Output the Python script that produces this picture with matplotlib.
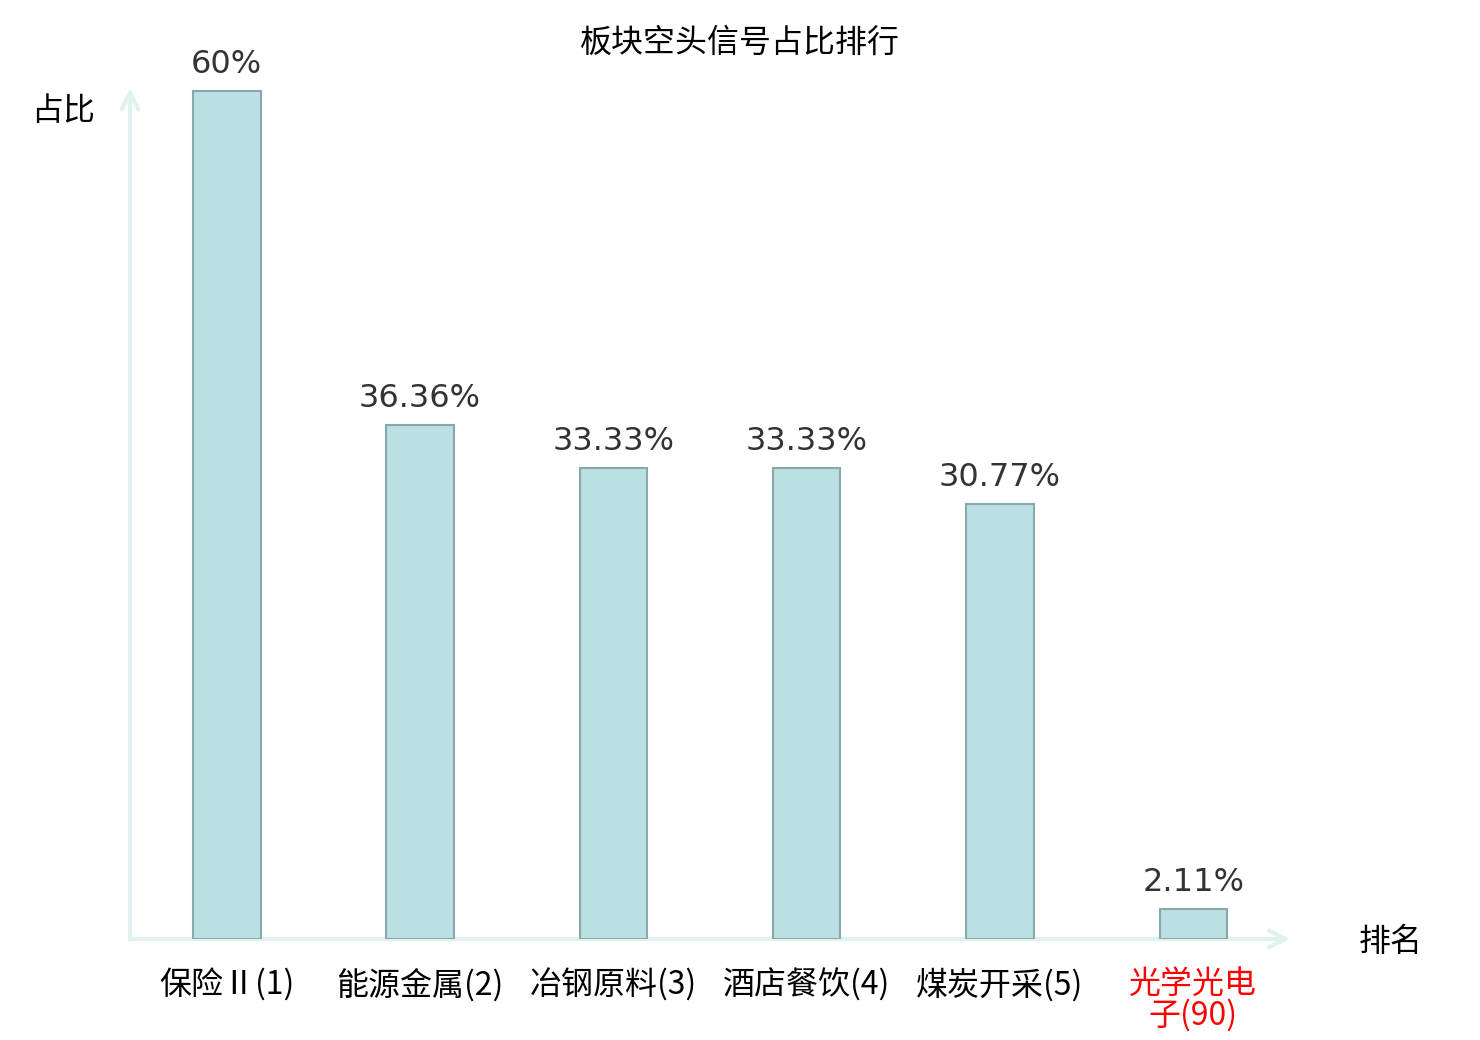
import matplotlib
matplotlib.use("Agg")
import matplotlib.pyplot as plt
import numpy as np

# dados
setores = ["保险Ⅱ(1)", "能源金属(2)", "冶钢原料(3)", "酒店餐饮(4)", "煤炭开采(5)", "光学光电\n子(90)"]
valores = [60, 36.36, 33.33, 33.33, 30.77, 2.11]
rotulos = ["60%", "36.36%", "33.33%", "33.33%", "30.77%", "2.11%"]
cores_rotulo = ["black", "black", "black", "black", "black", "red"]

cjk = ["Noto Sans CJK SC", "DejaVu Sans"]
latin = ["DejaVu Sans", "Noto Sans CJK SC"]
cor_eixo = "#dff2ef"

fig = plt.figure(figsize=(14.8, 10.4), dpi=100)
ax = fig.add_axes([130 / 1480, 101 / 1040, 1160 / 1480, 851 / 1040])

x = np.arange(len(setores))
ax.bar(x, valores, width=0.35, color="#bbe0e3", edgecolor="#8aa7a9", linewidth=1.5, zorder=3)

# rotulos de valor
for xi, v, r in zip(x, valores, rotulos):
    ax.annotate(r, (xi, v), xytext=(0, 8), textcoords="offset points",
                ha="center", va="bottom", fontsize=23, color="#333333", family=latin)

ax.set_xlim(-0.5, 5.5)
ax.set_ylim(0, 60.2)
for s in ax.spines.values():
    s.set_visible(False)
ax.set_yticks([])
ax.set_xticks(x)
ax.set_xticklabels(setores, family=cjk, fontsize=23, linespacing=0.97, va="top")
ax.tick_params(axis="x", length=0, pad=21)
for lbl, c in zip(ax.get_xticklabels(), cores_rotulo):
    lbl.set_color(c)

# eixos com seta
ax.annotate("", xy=(1, 0), xytext=(0, 0), xycoords="axes fraction",
            arrowprops=dict(arrowstyle="->", color=cor_eixo, lw=3, mutation_scale=30,
                            shrinkA=0, shrinkB=0), zorder=1)
ax.annotate("", xy=(0, 1), xytext=(0, 0), xycoords="axes fraction",
            arrowprops=dict(arrowstyle="->", color=cor_eixo, lw=3, mutation_scale=30,
                            shrinkA=0, shrinkB=0), zorder=1)

fig.text(740 / 1480, 1 - 43 / 1040, "板块空头信号占比排行", ha="center", va="center",
         fontsize=23, family=cjk)
fig.text(63 / 1480, 1 - 111 / 1040, "占比", ha="center", va="center", fontsize=23, family=cjk)
fig.text(1391 / 1480, 1 - 942 / 1040, "排名", ha="center", va="center", fontsize=23, family=cjk)

fig.savefig("out.png", dpi=100)
